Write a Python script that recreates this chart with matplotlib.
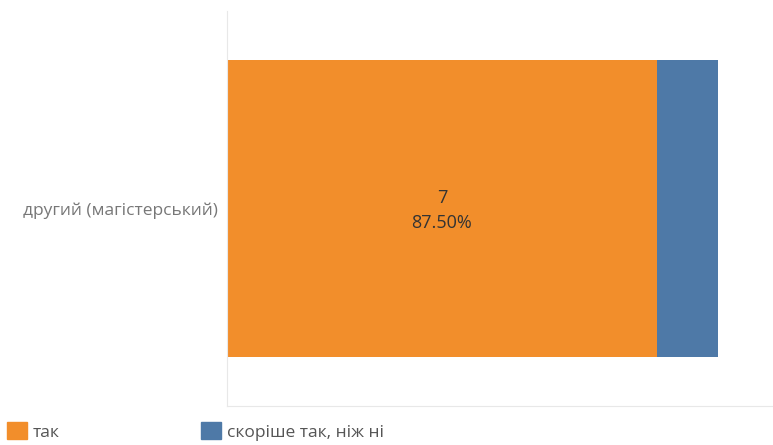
import matplotlib.pyplot as plt
from matplotlib.patches import Patch

plt.rcParams['font.family'] = ['Open Sans', 'DejaVu Sans']

categories = ['другий (магістерський)']
series_names = ['так', 'скоріше так, ніж ні']
counts_tak = [7]
counts_skorishe = [1]
colors = ['#f28e2b', '#4e79a7']

fig = plt.figure(figsize=(7.73, 4.45), dpi=100)
ax = fig.add_axes([227/773, 1 - 406/445, 546/773, 395/445])

total = [a + b for a, b in zip(counts_tak, counts_skorishe)]
ax.barh(categories, counts_tak, height=0.75, color=colors[0])
ax.barh(categories, counts_skorishe, left=counts_tak, height=0.75, color=colors[1])

for i, (v, t) in enumerate(zip(counts_tak, total)):
    ax.text(v / 2, i + 0.005, f'{v}\n{v / t * 100:.2f}%', ha='center', va='center',
            fontsize=13, color='#333333', linespacing=1.45)

ax.set_xlim(0, total[0] * 546 / 491)
ax.set_ylim(-0.5, 0.5)
ax.invert_yaxis()
ax.set_xticks([])
ax.tick_params(axis='y', length=0, labelsize=12.5, labelcolor='#777777', pad=6.5)
for s in ['top', 'right']:
    ax.spines[s].set_visible(False)
for s in ['left', 'bottom']:
    ax.spines[s].set_color('#e8e8e8')
    ax.spines[s].set_linewidth(0.8)

handles = [Patch(color=c) for c in colors]
fig.legend(handles, series_names, loc='lower left', bbox_to_anchor=(0.002, -0.002),
           ncol=2, frameon=False, fontsize=12.5, handlelength=1.15, handleheight=1.15,
           handletextpad=0.35, columnspacing=8.15, borderaxespad=0.2,
           borderpad=0.1, labelcolor='#555555')

fig.savefig('out.png', dpi=100)
